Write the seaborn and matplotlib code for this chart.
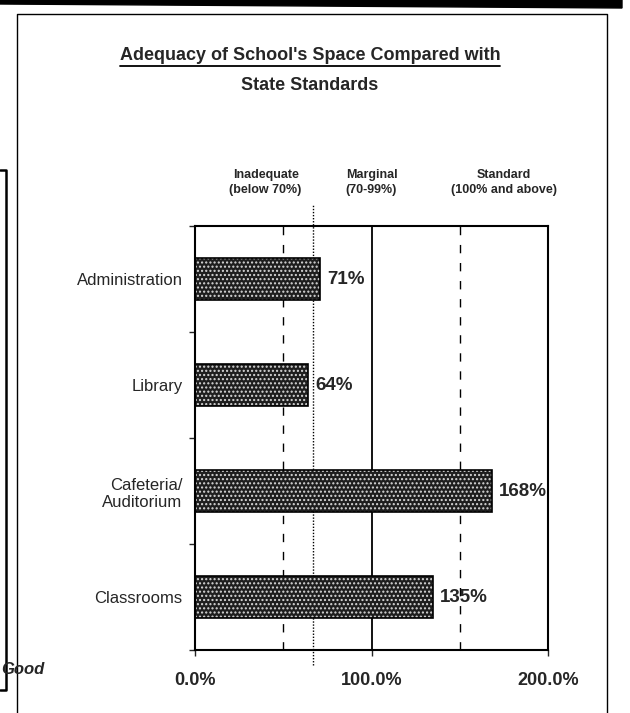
import matplotlib
matplotlib.use('Agg')
import pandas as pd
import seaborn as sns
import matplotlib.pyplot as plt
from matplotlib.lines import Line2D
from matplotlib.patches import Rectangle, Polygon

# chart data
categories = ['Administration', 'Library', 'Cafeteria/\nAuditorium', 'Classrooms']
values = [71, 64, 168, 135]
value_labels = ['71%', '64%', '168%', '135%']
x_ticks = [0, 100, 200]
x_tick_labels = ['0.0%', '100.0%', '200.0%']
band_names = ['Inadequate\n(below 70%)', 'Marginal\n(70-99%)', 'Standard\n(100% and above)']
band_centers = [40, 100, 175]
ref_dashed = [50, 150]
ref_solid = 100
ref_dotted = 67

df = pd.DataFrame({'Space': categories, 'Pct': values})

sns.set_style('white')
plt.rcParams['font.family'] = ['Liberation Sans', 'DejaVu Sans']

W, H = 630, 713
fig = plt.figure(figsize=(6.3, 7.13), dpi=100)
ax = fig.add_axes([195 / W, 1 - 650 / H, 353 / W, 424 / H])

# bars: dark stipple fill, then black outline from the drawn patches
sns.barplot(data=df, x='Pct', y='Space', orient='h', ax=ax, width=0.40,
            color='#1e1e1e', edgecolor='#d8d8d8', linewidth=0, hatch='....',
            saturation=1)
for p in list(ax.patches):
    ax.add_patch(Rectangle((p.get_x(), p.get_y()), p.get_width(), p.get_height(),
                           fill=False, edgecolor='black', lw=1.2, zorder=3))
ax.bar_label(ax.containers[0], labels=value_labels, padding=5,
             fontsize=13.5, fontweight='bold')

ax.set_xlim(0, 200)
ax.set_ylim(3.5, -0.5)

# reference lines
ax.axvline(ref_solid, color='black', lw=1.3, zorder=0)
for xv in ref_dashed:
    ax.axvline(xv, color='black', lw=1.0, ls=(0, (6, 7)), zorder=0)
ax.plot([ref_dotted, ref_dotted], [3.64, -0.70], color='black', lw=1.0,
        ls=(0, (1, 1.2)), clip_on=False, zorder=0)

# ticks
ax.set_xticks(x_ticks)
ax.set_xticklabels(x_tick_labels, fontsize=13, fontweight='bold')
ax.set_yticks([-0.5, 0.5, 1.5, 2.5, 3.5])
ax.set_yticklabels([])
ax.set_yticks(range(len(categories)), minor=True)
ax.set_yticklabels(categories, minor=True, fontsize=12)
ax.tick_params(axis='y', which='major', direction='out', length=4, width=1, left=True)
ax.tick_params(axis='y', which='minor', length=0, pad=9)
ax.tick_params(axis='x', which='major', direction='out', length=4, width=1, bottom=True, pad=12)
ax.set_xlabel('')
ax.set_ylabel('')
for s in ax.spines.values():
    s.set_color('black')
    s.set_linewidth(1.5)

# band captions above the plot
for name, xc in zip(band_names, band_centers):
    ax.text(xc, -0.78, name, ha='center', va='bottom', fontsize=9,
            fontweight='bold', linespacing=1.35)

# title, first line underlined
t1 = fig.text(310 / W, 1 - 55 / H, "Adequacy of School's Space Compared with",
              ha='center', va='center', fontsize=13, fontweight='bold')
fig.text(310 / W, 1 - 86 / H, 'State Standards', ha='center', va='center',
         fontsize=13, fontweight='bold')
fig.canvas.draw()
bb = t1.get_window_extent(fig.canvas.get_renderer())
fig.add_artist(Line2D([bb.x0 / W, bb.x1 / W], [(bb.y0 - 2) / H] * 2,
                      color='black', lw=1.3))

# page frame and scan leftovers
def px(x, y):
    return (x / W, 1 - y / H)

fig.add_artist(Polygon([px(0, 0), px(622, 0), px(622, 8), px(0, 4)], closed=True,
                       color='black', transform=fig.transFigure))
frame = [px(17, 713), px(17, 14), px(607, 14), px(607, 713)]
fig.add_artist(Line2D([p[0] for p in frame], [p[1] for p in frame], color='black', lw=1.0))
fig.text(44 / W, 1 - 669 / H, 'Good', ha='right', va='center', fontsize=12,
         fontweight='bold', fontstyle='italic')
box = [px(0, 170), px(6, 170), px(6, 690), px(0, 690)]
fig.add_artist(Line2D([p[0] for p in box], [p[1] for p in box], color='black', lw=1.8))

plt.savefig('out.png', dpi=100)
